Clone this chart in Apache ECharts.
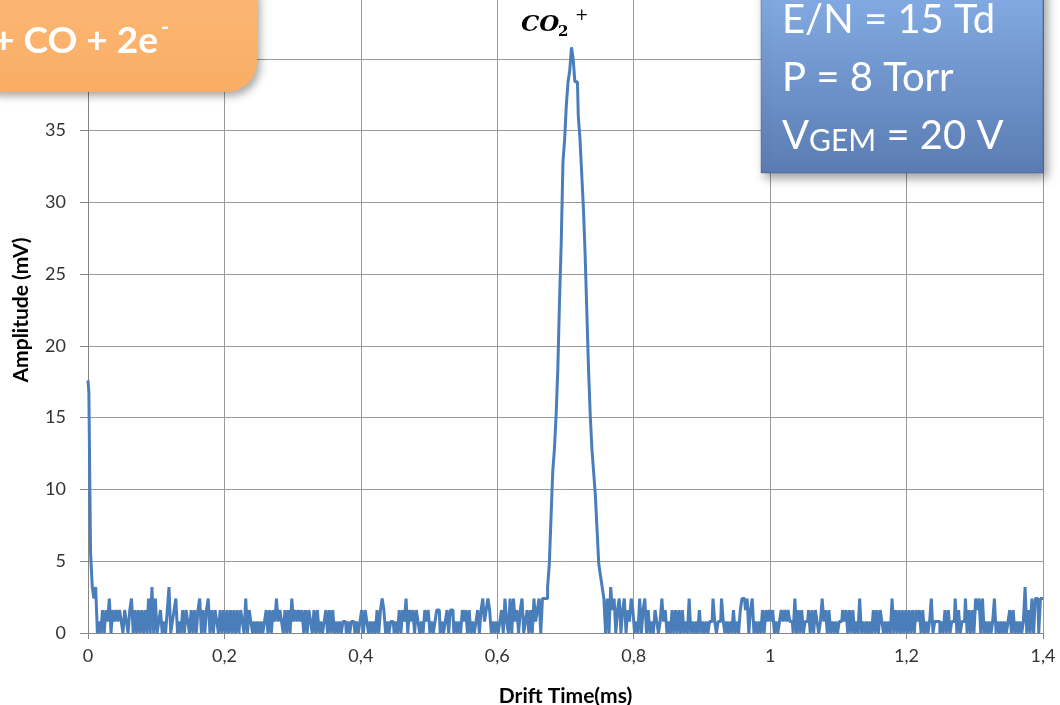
<!DOCTYPE html>
<html>
<head>
<meta charset="utf-8">
<title>Drift time spectrum</title>
<script src="https://cdn.jsdelivr.net/npm/echarts@6/dist/echarts.min.js"></script>
<style>
  html, body { margin: 0; padding: 0; background: #fff; }
  #chart { width: 1060px; height: 705px; }
</style>
</head>
<body>
<div id="chart"></div>
<script>
// sampling of the trace (ms)
var timeStep = 0.0025;

// amplitude (mV), one value every timeStep from 0 to 1.4 ms
var amplitude = [
  17.6,16.8,5.6,3.2,2.4,3.2,0,0.8,0,1.6,0,1.6,0.8,2.4,0,1.6,0.8,1.6,0.8,1.6,
  0.8,0,1.6,0.8,0,1.6,2.4,0,1.6,0,1.6,0,1.6,0,1.6,0,2.4,0,3.2,0,
  2.4,0,0.8,1.6,0,0.8,0,1.6,3.2,0,0.8,1.6,2.4,0,0.8,0,1.6,0,1.6,0.8,
  0,1.6,0,1.6,0,1.6,2.4,0,1.6,0,1.6,2.4,0,1.6,0,1.6,0.8,0,1.6,0,
  1.6,0,1.6,0,1.6,0,1.6,0,1.6,0,1.6,0.8,0,2.4,0,1.6,0.8,0,0.8,0,
  0.8,0,0.8,0,0.8,1.6,0,1.6,0,1.6,0.8,2.4,0.8,1.6,0.8,0,1.6,0,1.6,0,
  2.4,0.8,1.6,0.8,1.6,0.8,1.6,0,1.6,0,1.6,0.8,0,1.6,0,1.6,0,0.8,0,0.8,
  1.6,0,1.6,0,1.6,0,0.8,0,0.8,0,0.8,0.8,0,0.8,0,0.8,0.8,0,0.8,0,
  0.8,1.6,0,1.6,0.8,0,0.8,0,0.8,0,1.6,0,1.6,2.4,1.6,0,0.8,0,0.8,0.8,
  0,0.8,0,1.6,0,1.6,0.8,2.4,0,1.6,0.8,1.6,0,1.6,0.8,0,0.8,0,1.6,0.8,
  1.6,0,0.8,0,0.8,1.6,1.6,0,0.8,0,0.8,1.6,0,1.6,1.6,0,0.8,0,0.8,0,
  1.6,0.8,1.6,0,1.6,0,0.8,0,0.8,1.6,0,1.6,2.4,0.8,1.6,2.4,1.6,0,0.8,0,
  0.8,0,0.8,1.6,0,2.4,0.8,0,2.4,0,2.4,0.8,1.6,0,1.6,2.4,0,0.8,1.6,0,
  1.6,0,2.4,0.8,1.6,2.4,0,2.4,2.4,2.4,3.2,4.8,8.0,11.2,12.8,15.2,18.4,23.2,27.2,32.8,
  34.4,36.8,38.4,39.2,40.8,40.0,38.4,38.4,36.0,34.4,32.0,29.6,26.4,22.4,18.4,15.2,12.8,11.2,9.6,7.2,
  4.8,4.0,3.2,2.4,0,2.4,0,3.2,1.6,2.4,0,1.6,2.4,0,1.6,2.4,0,1.6,0.8,2.4,
  1.6,0,0.8,0,2.4,0,1.6,2.4,0,1.6,0,0.8,0,1.6,0.8,0,0.8,2.4,0.8,1.6,
  0,0.8,0,1.6,0,1.6,0,1.6,0,1.6,0,0.8,0,2.4,0,0.8,0,0.8,0,1.6,
  0,0.8,0,0.8,0,0.8,0.8,2.4,0.8,0,0.8,0.8,2.4,0.8,0,0.8,0,0.8,0,1.6,
  0,0.8,0,1.6,2.4,2.4,1.6,2.4,0,1.6,2.4,0,0.8,0,0.8,0,1.6,0,1.6,0.8,
  1.6,0.8,1.6,0,0.8,0,0.8,1.6,0.8,1.6,0.8,1.6,0.8,0.8,0,2.4,0,1.6,0,1.6,
  0,0.8,0.8,1.6,0,1.6,0,1.6,0.8,0,0.8,2.4,0.8,1.6,0,1.6,0,0.8,0,0.8,
  0,0.8,0.8,1.6,0.8,1.6,0,1.6,0,1.6,0,0.8,0,2.4,0,0.8,0,0.8,0,0.8,
  0,1.6,0,1.6,0,1.6,0.8,0,0.8,0,0.8,0,2.4,0,1.6,0,1.6,0,1.6,0,
  1.6,0,1.6,0,1.6,0,1.6,0.8,1.6,0,1.6,0,0.8,0,0.8,2.4,0,0.8,0.8,0.8,
  0,0.8,0,1.6,0,1.6,0,0.8,0.8,2.4,0,1.6,0,0.8,0.8,2.4,0,1.6,0,1.6,
  0,2.4,1.6,2.4,0,2.4,0,0.8,0,0.8,0,0.8,2.4,0,0.8,0,0.8,0,0.8,0,
  0.8,1.6,0,1.6,0,0.8,0,0.8,0,0.8,3.2,0,1.6,0,2.4,0,2.4,2.4,0,2.4,
  2.4
];

// axes
var xTicks = [0, 0.2, 0.4, 0.6, 0.8, 1, 1.2, 1.4];
var yTicks = [0, 5, 10, 15, 20, 25, 30, 35, 40, 45];

// annotation texts
var reactionText = '+ CO + 2e';
var conditionLines = ['E/N = 15 Td', 'P = 8 Torr'];

var points = [];
for (var i = 0; i < amplitude.length; i++) {
  points.push([+(i * timeStep).toFixed(4), amplitude[i]]);
}

var myChart = echarts.init(document.getElementById('chart'));
var gridColor = '#9a9a9a';
var labelFont = 'Lato, "Open Sans", sans-serif';

var option = {
  animation: false,
  grid: { left: 88, right: 17, top: -13, bottom: 72, outerBoundsMode: 'none', containLabel: false },
  xAxis: {
    type: 'value',
    min: xTicks[0],
    max: xTicks[xTicks.length - 1],
    interval: 0.2,
    name: 'Drift Time(ms)',
    nameLocation: 'middle',
    nameGap: 53,
    nameTextStyle: { fontFamily: labelFont, fontWeight: 'bold', fontSize: 21, color: '#000' },
    axisLine: { show: true, lineStyle: { color: '#868686', width: 1 } },
    axisTick: { show: true, length: 6, lineStyle: { color: '#868686' } },
    axisLabel: {
      fontFamily: labelFont, fontSize: 18, color: '#333', margin: 14,
      formatter: function (v) { return String(Math.round(v * 10) / 10).replace('.', ','); }
    },
    splitLine: { show: true, lineStyle: { color: gridColor, width: 1 } }
  },
  yAxis: {
    type: 'value',
    min: yTicks[0],
    max: yTicks[yTicks.length - 1],
    interval: 5,
    name: 'Amplitude (mV)',
    nameLocation: 'middle',
    nameGap: 56,
    nameRotate: 90,
    nameTextStyle: { fontFamily: labelFont, fontWeight: 'bold', fontSize: 21, color: '#000' },
    axisLine: { show: true, lineStyle: { color: '#868686', width: 1 } },
    axisTick: { show: true, length: 8, lineStyle: { color: '#868686' } },
    axisLabel: { fontFamily: labelFont, fontSize: 18, color: '#333', margin: 22 },
    splitLine: { show: true, lineStyle: { color: gridColor, width: 1 } }
  },
  series: [{
    type: 'line',
    data: points,
    step: 'middle',
    symbol: 'none',
    lineStyle: { color: '#4A7EBB', width: 3 },
    z: 3
  }],
  graphic: [
    // orange reaction box (cut by the top-left corner)
    {
      type: 'rect', z: 100,
      shape: { x: -30, y: -30, width: 287, height: 122, r: 30 },
      style: {
        fill: new echarts.graphic.LinearGradient(0, 0, 0, 1, [
          { offset: 0, color: '#FDB976' }, { offset: 1, color: '#F9AD66' }
        ]),
        shadowBlur: 8, shadowOffsetX: 3, shadowOffsetY: 4, shadowColor: 'rgba(0,0,0,0.35)'
      }
    },
    {
      type: 'text', z: 101, x: 158, y: 41,
      style: { text: reactionText, fill: '#fff', font: 'bold 37px Lato, sans-serif', textAlign: 'right', textVerticalAlign: 'middle' }
    },
    {
      type: 'text', z: 101, x: 161, y: 28,
      style: { text: '-', fill: '#fff', font: 'bold 22px Lato, sans-serif', textAlign: 'left', textVerticalAlign: 'middle' }
    },
    // blue conditions box
    {
      type: 'rect', z: 100,
      shape: { x: 761, y: -20, width: 282, height: 193 },
      style: {
        fill: new echarts.graphic.LinearGradient(0, 0, 0, 1, [
          { offset: 0, color: '#86AEE6' }, { offset: 1, color: '#5A7CB2' }
        ]),
        stroke: 'rgba(40,70,120,0.35)', lineWidth: 1,
        shadowBlur: 10, shadowOffsetX: 4, shadowOffsetY: 5, shadowColor: 'rgba(0,0,0,0.4)'
      }
    },
    {
      type: 'text', z: 101, x: 782, y: 20,
      style: { text: conditionLines[0], fill: '#fff', font: '40px Lato, sans-serif', textVerticalAlign: 'middle' }
    },
    {
      type: 'text', z: 101, x: 782, y: 78,
      style: { text: conditionLines[1], fill: '#fff', font: '40px Lato, sans-serif', textVerticalAlign: 'middle' }
    },
    {
      type: 'text', z: 101, x: 782, y: 136,
      style: {
        text: '{v|V}{s|GEM}{v| = 20 V}',
        fill: '#fff', textVerticalAlign: 'middle',
        rich: {
          v: { fontFamily: 'Lato, sans-serif', fontSize: 40, color: '#fff', verticalAlign: 'bottom' },
          s: { fontFamily: 'Lato, sans-serif', fontSize: 30, color: '#fff', verticalAlign: 'bottom' }
        }
      }
    },
    // CO2+ label above the peak
    {
      type: 'text', z: 101, x: 521, y: 25,
      style: { text: 'CO', fill: '#000', font: 'italic bold 23px "DejaVu Serif", serif', textVerticalAlign: 'middle' }
    },
    {
      type: 'text', z: 101, x: 558, y: 32,
      style: { text: '2', fill: '#000', font: 'bold 15px "DejaVu Serif", serif', textVerticalAlign: 'middle' }
    },
    {
      type: 'text', z: 101, x: 575, y: 16,
      style: { text: '+', fill: '#000', font: '16px "DejaVu Serif", serif', textVerticalAlign: 'middle' }
    }
  ]
};

myChart.setOption(option);
window.addEventListener('resize', function () {
  myChart.resize();
});
</script>
</body>
</html>
